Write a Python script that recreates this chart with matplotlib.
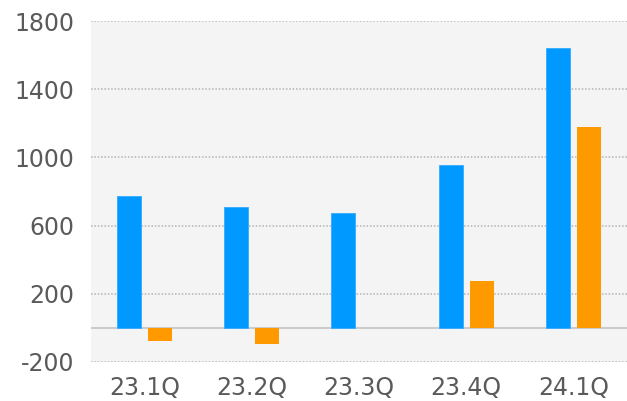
import numpy as np
import matplotlib
matplotlib.use("Agg")
import matplotlib.pyplot as plt

quarters = ["23.1Q", "23.2Q", "23.3Q", "23.4Q", "24.1Q"]
series_blue = [775, 710, 675, 955, 1640]
series_orange = [-78, -96, 0, 275, 1180]
yticks = [-200, 200, 600, 1000, 1400, 1800]

plt.rcParams['font.family'] = ['DejaVu Sans']
plt.rcParams['axes.unicode_minus'] = False

fig = plt.figure(figsize=(6.27, 4.01), dpi=100)
ax = fig.add_axes([0.1451, 0.0973, 0.8549, 0.8503])
ax.set_facecolor('#f4f4f4')

x = np.arange(len(quarters))
w = 0.224
off = 0.145
ax.bar(x - off, series_blue, width=w, color='#0099ff', edgecolor='#33aaff', linewidth=0.6, zorder=3)
ax.bar(x + off, series_orange, width=w, color='#ff9900', linewidth=0, zorder=3)

ax.set_xlim(-0.5, 4.5)
ax.set_ylim(-200, 1800)
ax.set_yticks(yticks)
ax.set_xticks(x)
ax.set_xticklabels(quarters)
for yv in yticks:
    ax.axhline(yv, color='#b4b4b4', linestyle=(0, (1, 1.2)), linewidth=1.1, zorder=1)
ax.axhline(0, color='#cccccc', linewidth=1.5, zorder=2)

for s in ax.spines.values():
    s.set_visible(False)
ax.tick_params(axis='both', length=0, labelsize=17, colors='#5a5a5a')
ax.tick_params(axis='y', pad=12)
ax.tick_params(axis='x', pad=10)

fig.savefig("out.png", dpi=100)
